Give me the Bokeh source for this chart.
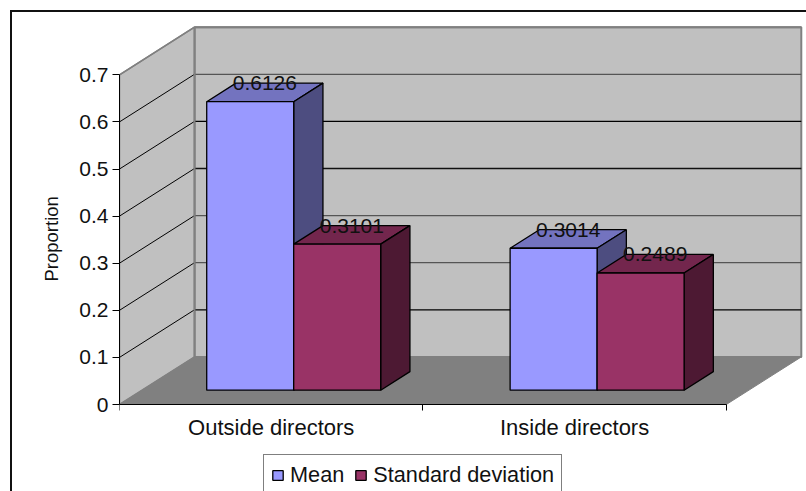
from bokeh.embed import file_html
from bokeh.resources import INLINE
from bokeh.plotting import figure
from bokeh.models import (Range1d, FixedTicker, LinearAxis, Legend, LegendItem, Title)
from bokeh.core.properties import value

categories = ["Outside directors", "Inside directors"]
mean_values = [0.6126, 0.3014]
std_values = [0.3101, 0.2489]
series_names = ["Mean", "Standard deviation"]
y_ticks = [0, 0.1, 0.2, 0.3, 0.4, 0.5, 0.6, 0.7]

front_colors = ["#9999FF", "#993366"]
top_colors = ["#7373BF", "#73264D"]
side_colors = ["#4D4D80", "#4D1933"]
grid_colors = ["#808080", "#000000", "#555555", "#555555", "#111111", "#000000", "#555555", "#808080"]

FONT = "Liberation Sans"
PX_X = 303.4   # pixels per category
PX_Y = 471.0   # pixels per unit of proportion
DX = 75.0 / PX_X      # wall depth in x units
DY = 47.6 / PX_Y      # wall depth in y units
BAR_W = 0.2867
GAP = 1 - 2 * BAR_W
D0, D1 = 0.30, 0.69   # bar depth span as fraction of the wall depth
YMAX = y_ticks[-1]
NCAT = len(categories)

W, H = 806, 491
ML, MT = 119, 20
AXIS_PX = 404 - MT          # frame pixels above the zero line
BELOW_PX = H - MT - AXIS_PX  # frame pixels below the zero line
p = figure(output_backend="svg", toolbar_location=None,
           frame_width=W - ML, frame_height=H - MT,
           x_axis_location=None, y_axis_location=None,
           x_range=Range1d(0, (W - ML) / PX_X),
           y_range=Range1d(-BELOW_PX / PX_Y, AXIS_PX / PX_Y),
           min_border_left=ML, min_border_right=0, min_border_top=MT, min_border_bottom=0)
p.grid.visible = False
p.outline_line_color = None
p.background_fill_color = "white"
p.border_fill_alpha = 0
# outer chart border, open towards the right and bottom like the cropped reference
p.styles = {
    "background": ("linear-gradient(#111,#111) 10px 10px / 2px 100% no-repeat,"
                   "linear-gradient(#111,#111) 10px 10px / 100% 2px no-repeat,white"),
}

# walls and floor
p.patch([DX, NCAT + DX, NCAT + DX, DX], [DY, DY, YMAX + DY, YMAX + DY],
        fill_color="#C0C0C0", line_color="#808080", line_width=2)
p.patch([0, DX, DX, 0], [0, DY, YMAX + DY, YMAX],
        fill_color="#C0C0C0", line_color="#808080", line_width=1.5)
p.patch([0, NCAT, NCAT + DX, DX], [0, 0, DY, DY],
        fill_color="#808080", line_color="#808080", line_width=1)

# gridlines along side wall and back wall
for t, c in zip(y_ticks[1:-1], grid_colors[1:-1]):
    p.line([0, DX], [t, t + DY], line_color="#000000", line_width=1)
    p.line([DX, NCAT + DX], [t + DY, t + DY], line_color=c, line_width=1.3)
p.line([DX, NCAT + DX], [YMAX + DY] * 2, line_color="#808080", line_width=2)
p.line([DX, DX], [DY, YMAX + DY], line_color="#808080", line_width=2)
p.line([DX, NCAT + DX], [DY, DY], line_color="#808080", line_width=2)
p.line([0, DX], [YMAX, YMAX + DY], line_color="#808080", line_width=1.5)

# 3D bars
legend_items = []
labels = []
for s, vals in enumerate([mean_values, std_values]):
    lefts, rights, tops = [], [], []
    base = D0 * DY
    shift0, shift1 = D0 * DX, D1 * DX
    rise = (D1 - D0) * DY
    for c, v in enumerate(vals):
        x0 = c + GAP / 2 + s * BAR_W + shift0
        x1 = x0 + BAR_W
        y1 = v + base
        # top face
        p.patch([x0, x1, x1 + (shift1 - shift0), x0 + (shift1 - shift0)],
                [y1, y1, y1 + rise, y1 + rise],
                fill_color=top_colors[s], line_color="black", line_width=1.3)
        # side face
        p.patch([x1, x1 + (shift1 - shift0), x1 + (shift1 - shift0), x1],
                [base, base + rise, y1 + rise, y1],
                fill_color=side_colors[s], line_color="black", line_width=1.3)
        lefts.append(x0); rights.append(x1); tops.append(y1)
        labels.append(((x0 + x1) / 2 + (shift1 - shift0) / 2, y1 + rise, f"{v:.4f}"))
    r = p.quad(left=lefts, right=rights, top=tops, bottom=[base] * len(vals),
               fill_color=front_colors[s], line_color="black", line_width=1.3)
    legend_items.append(LegendItem(label=value(series_names[s]), renderers=[r]))

p.text([l[0] for l in labels], [l[1] for l in labels], text=[l[2] for l in labels],
       text_font=value(FONT), text_font_size="21px", text_color="#111111",
       text_align="center", text_baseline="middle")

# y axis
yax = LinearAxis(ticker=FixedTicker(ticks=y_ticks), bounds=(0, YMAX))
yax.major_label_overrides = {0: "0"}
yax.major_label_text_font = FONT
yax.major_label_text_font_size = "21px"
yax.major_label_text_color = "#111111"
yax.major_label_standoff = 4
yax.major_tick_in = 0
yax.major_tick_out = 7
yax.minor_tick_in = 0
yax.minor_tick_out = 0
yax.axis_line_color = "black"
p.add_layout(yax, "left")

# y axis title, centred on the axis rather than the whole frame
p.add_layout(Title(text="Proportion", align="left", offset=210, standoff=30,
                   text_font=FONT, text_font_style="normal", text_font_size="18.5px",
                   text_color="#111111"), "left")

# x axis on the zero line, ticks on the category boundaries
xax = LinearAxis(ticker=FixedTicker(ticks=[], minor_ticks=list(range(NCAT + 1))),
                 bounds=(0, NCAT), fixed_location=0)
xax.major_label_text_font_size = "0px"
xax.major_label_standoff = 0
xax.major_tick_in = 0
xax.major_tick_out = 0
xax.minor_tick_in = 0
xax.minor_tick_out = 6
xax.minor_tick_line_color = "black"
xax.axis_line_color = "black"
p.add_layout(xax, "below")

# category labels, centred between the ticks
p.text([i + 0.5 for i in range(NCAT)], [-22.7 / PX_Y] * NCAT, text=categories,
       text_font=value(FONT), text_font_size="22px", text_color="#111111",
       text_align="center", text_baseline="middle")

# legend
legend = Legend(items=legend_items, orientation="horizontal", location=(144, -5),
                label_text_font=FONT, label_text_font_size="21.7px", label_text_color="#111111",
                glyph_width=13, glyph_height=12, label_standoff=6, spacing=10,
                padding=7, margin=0, border_line_color="black", border_line_width=1,
                background_fill_color="white", background_fill_alpha=1)
p.add_layout(legend)

open("out.html", "w").write(file_html(p, INLINE))
